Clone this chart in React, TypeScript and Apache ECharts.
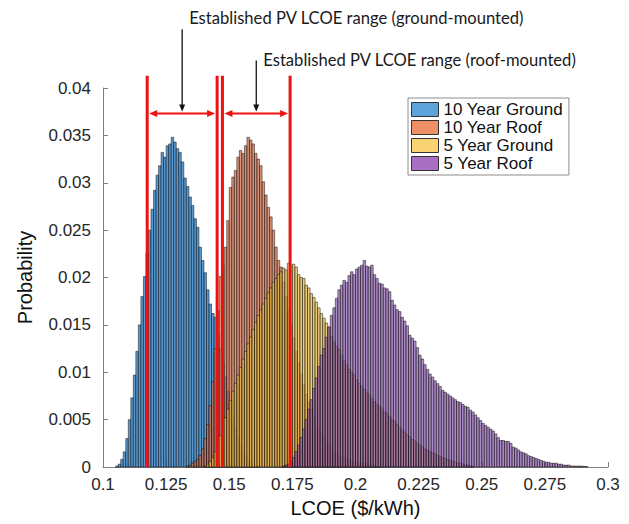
import React, { useEffect, useRef } from 'react';
import * as echarts from 'echarts';

// ---------- data ----------
const BIN_WIDTH = 0.001;
const SERIES_NAMES = ['10 Year Ground', '10 Year Roof', '5 Year Ground', '5 Year Roof'];

const GROUND10_START = 0.105;
const GROUND10 = [
  0.0001, 0.0003, 0.0008, 0.0016, 0.0030, 0.0050, 0.0073, 0.0097, 0.0122, 0.0150,
  0.0180, 0.0201, 0.0226, 0.0250, 0.0272, 0.0292, 0.0308, 0.0318, 0.0332, 0.0327,
  0.0339, 0.0341, 0.0348, 0.0343, 0.0336, 0.0332, 0.0322, 0.0305, 0.0296, 0.0285,
  0.0276, 0.0262, 0.0253, 0.0232, 0.0218, 0.0205, 0.0187, 0.0172, 0.0162, 0.0158,
  0.0140, 0.0125, 0.0110, 0.0095, 0.0080, 0.0066, 0.0053, 0.0042, 0.0032, 0.0024,
  0.0017, 0.0012, 0.0008, 0.0005, 0.0003, 0.0002, 0.0001,
];

const ROOF10_START = 0.133;
const ROOF10 = [
  0.0001, 0.0002, 0.0004, 0.0006, 0.0008, 0.0012, 0.0019, 0.0030, 0.0045, 0.0065,
  0.0090, 0.0125, 0.0165, 0.0201, 0.0213, 0.0232, 0.0260, 0.0295, 0.0306, 0.0313,
  0.0327, 0.0334, 0.0331, 0.0339, 0.0348, 0.0345, 0.0341, 0.0331, 0.0325, 0.0318,
  0.0301, 0.0287, 0.0274, 0.0264, 0.0250, 0.0232, 0.0218, 0.0211, 0.0195, 0.0180,
  0.0165, 0.0150, 0.0136, 0.0122, 0.0110, 0.0098, 0.0087, 0.0077, 0.0068, 0.0060,
  0.0053, 0.0046, 0.0040, 0.0035, 0.0030, 0.0026, 0.0022, 0.0019, 0.0016, 0.0014,
  0.0012, 0.0011, 0.0010, 0.0009, 0.0008, 0.0007, 0.0006, 0.0006, 0.0005, 0.0004,
  0.0004, 0.0003, 0.0003, 0.0002, 0.0002, 0.0001, 0.0001,
];

const GROUND5_START = 0.140;
const GROUND5 = [
  0.0001, 0.0003, 0.0006, 0.0010, 0.0016, 0.0024, 0.0033, 0.0043, 0.0052, 0.0061,
  0.0070, 0.0080, 0.0088, 0.0097, 0.0105, 0.0114, 0.0122, 0.0130, 0.0137, 0.0145,
  0.0153, 0.0160, 0.0166, 0.0172, 0.0178, 0.0184, 0.0189, 0.0195, 0.0199, 0.0203,
  0.0206, 0.0210, 0.0208, 0.0215, 0.0213, 0.0214, 0.0211, 0.0203, 0.0200, 0.0199,
  0.0192, 0.0189, 0.0183, 0.0179, 0.0174, 0.0168, 0.0162, 0.0157, 0.0152, 0.0147,
  0.0138, 0.0132, 0.0127, 0.0124, 0.0118, 0.0112, 0.0108, 0.0103, 0.0100, 0.0097,
  0.0092, 0.0088, 0.0085, 0.0082, 0.0079, 0.0076, 0.0072, 0.0069, 0.0066, 0.0064,
  0.0061, 0.0058, 0.0056, 0.0053, 0.0050, 0.0048, 0.0045, 0.0042, 0.0039, 0.0037,
  0.0034, 0.0032, 0.0029, 0.0027, 0.0025, 0.0023, 0.0021, 0.0019, 0.0018, 0.0016,
  0.0015, 0.0014, 0.0012, 0.0011, 0.0010, 0.0009, 0.0008, 0.0007, 0.0006, 0.0005,
  0.0004, 0.0004, 0.0003, 0.0002, 0.0002, 0.0001, 0.0001,
];

const ROOF5_START = 0.171;
const ROOF5 = [
  0.0001, 0.0002, 0.0003, 0.0005, 0.0010, 0.0016, 0.0023, 0.0031, 0.0040, 0.0050,
  0.0061, 0.0071, 0.0083, 0.0094, 0.0106, 0.0118, 0.0125, 0.0137, 0.0148, 0.0160,
  0.0168, 0.0178, 0.0187, 0.0192, 0.0197, 0.0195, 0.0202, 0.0206, 0.0203, 0.0209,
  0.0211, 0.0213, 0.0218, 0.0212, 0.0211, 0.0213, 0.0203, 0.0199, 0.0194, 0.0193,
  0.0189, 0.0188, 0.0185, 0.0176, 0.0171, 0.0166, 0.0164, 0.0158, 0.0154, 0.0149,
  0.0139, 0.0136, 0.0133, 0.0126, 0.0118, 0.0114, 0.0108, 0.0103, 0.0098, 0.0095,
  0.0091, 0.0088, 0.0085, 0.0081, 0.0079, 0.0077, 0.0075, 0.0073, 0.0071, 0.0069,
  0.0068, 0.0066, 0.0064, 0.0063, 0.0060, 0.0058, 0.0055, 0.0052, 0.0049, 0.0046,
  0.0044, 0.0042, 0.0040, 0.0038, 0.0035, 0.0031, 0.0028, 0.0028, 0.0027, 0.0027,
  0.0025, 0.0021, 0.0020, 0.0018, 0.0016, 0.0015, 0.0014, 0.0012, 0.0011, 0.0010,
  0.0009, 0.0008, 0.0007, 0.0006, 0.0005, 0.0005, 0.0004, 0.0004, 0.0004, 0.0003,
  0.0003, 0.0002, 0.0002, 0.0002, 0.0001, 0.0001, 0.0001, 0.0001, 0.0001, 0.00005,
  0.00005,
];

const X_TICK_LABELS = ['0.1', '0.125', '0.15', '0.175', '0.2', '0.225', '0.25', '0.275', '0.3'];
const Y_TICK_LABELS = ['0', '0.005', '0.01', '0.015', '0.02', '0.025', '0.03', '0.035', '0.04'];

const RANGE_LABELS = [
  'Established PV LCOE range (ground-mounted)',
  'Established PV LCOE range (roof-mounted)',
];
const RANGE_LOW = [0.1175, 0.1473];
const RANGE_HIGH = [0.1452, 0.1741];

// ---------- styles ----------
const FILL_COLORS = [
  'rgba(60,135,200,0.85)',
  'rgba(205,110,75,0.75)',
  'rgba(228,186,72,0.72)',
  'rgba(132,82,170,0.66)',
];
const LEGEND_COLORS = ['#5ba3da', '#ef8f67', '#f9d273', '#a96fc3'];
const SERIES_STARTS = [GROUND10_START, ROOF10_START, GROUND5_START, ROOF5_START];
const SERIES_VALUES = [GROUND10, ROOF10, GROUND5, ROOF5];

const LINE_TOP = 0.0413;
const ARROW_Y = 0.0373;
const POINTER_TOP = [0.0462, 0.0429];
const LABEL_Y = [0.0474, 0.0430];

function histSeries(idx: number) {
  const start = SERIES_STARTS[idx];
  const values = SERIES_VALUES[idx];
  const data = values.map((v, i) => [
    +(start + i * BIN_WIDTH).toFixed(4),
    +(start + (i + 1) * BIN_WIDTH).toFixed(4),
    v,
  ]);
  const fill = FILL_COLORS[idx];
  return {
    type: 'custom',
    name: SERIES_NAMES[idx],
    data,
    z: 2 + idx,
    encode: { x: [0, 1], y: 2 },
    itemStyle: { color: LEGEND_COLORS[idx] },
    renderItem: (_params: any, api: any) => {
      const p0 = api.coord([api.value(0), api.value(2)]);
      const p1 = api.coord([api.value(1), 0]);
      return {
        type: 'rect',
        shape: { x: p0[0], y: p0[1], width: p1[0] - p0[0], height: p1[1] - p0[1] },
        style: { fill, stroke: 'rgba(0,0,0,0.85)', lineWidth: 0.55 },
      };
    },
  };
}

function arrowHead(tip: number[], dir: number[], len: number, half: number, color: string) {
  const bx = tip[0] - dir[0] * len;
  const by = tip[1] - dir[1] * len;
  const nx = -dir[1];
  const ny = dir[0];
  return {
    type: 'polygon',
    shape: {
      points: [
        [tip[0], tip[1]],
        [bx + nx * half, by + ny * half],
        [bx - nx * half, by - ny * half],
      ],
    },
    style: { fill: color },
  };
}

const annotationSeries = {
  type: 'custom',
  name: 'ranges',
  silent: true,
  z: 20,
  clip: false,
  data: RANGE_LOW.map((lo, i) => [lo, RANGE_HIGH[i], i]),
  encode: { x: [0, 1], y: 2 },
  renderItem: (_params: any, api: any) => {
    const lo = api.value(0);
    const hi = api.value(1);
    const i = api.value(2);
    const mid = (lo + hi) / 2;
    const red = '#ee1111';
    const loB = api.coord([lo, 0]);
    const loT = api.coord([lo, LINE_TOP]);
    const hiB = api.coord([hi, 0]);
    const hiT = api.coord([hi, LINE_TOP]);
    const aL = api.coord([lo, ARROW_Y]);
    const aR = api.coord([hi, ARROW_Y]);
    const pTop = api.coord([mid, POINTER_TOP[i]]);
    const pTip = api.coord([mid, ARROW_Y]);
    const lab = api.coord([mid, LABEL_Y[i]]);
    return {
      type: 'group',
      children: [
        { type: 'line', shape: { x1: loB[0], y1: loB[1], x2: loT[0], y2: loT[1] }, style: { stroke: red, lineWidth: 3 } },
        { type: 'line', shape: { x1: hiB[0], y1: hiB[1], x2: hiT[0], y2: hiT[1] }, style: { stroke: red, lineWidth: 3 } },
        { type: 'line', shape: { x1: aL[0] + 6, y1: aL[1], x2: aR[0] - 6, y2: aR[1] }, style: { stroke: red, lineWidth: 2 } },
        arrowHead([aL[0] + 2, aL[1]], [-1, 0], 8, 3.5, red),
        arrowHead([aR[0] - 2, aR[1]], [1, 0], 8, 3.5, red),
        { type: 'line', shape: { x1: pTop[0], y1: pTop[1], x2: pTip[0], y2: pTip[1] - 6 }, style: { stroke: '#111', lineWidth: 1.3 } },
        arrowHead([pTip[0], pTip[1] - 2], [0, 1], 7, 3, '#111'),
        {
          type: 'text',
          style: {
            text: RANGE_LABELS[i],
            x: pTop[0] + 7,
            y: lab[1],
            align: 'left',
            verticalAlign: 'middle',
            font: '16.6px Lato',
            fill: '#1a1a1a',
          },
        },
      ],
    };
  },
};

const option: any = {
  animation: false,
  backgroundColor: '#ffffff',
  grid: { left: 103, right: 21, top: 88, bottom: 57, containLabel: false },
  legend: {
    orient: 'vertical',
    left: 408,
    top: 98,
    itemWidth: 27,
    itemHeight: 14,
    itemGap: 1,
    padding: [3, 6, 3, 3],
    borderColor: '#8c8c8c',
    borderWidth: 1,
    icon: 'rect',
    textStyle: { fontFamily: 'Liberation Sans', fontSize: 17, color: '#111', lineHeight: 17 },
    data: SERIES_NAMES.map((n, i) => ({
      name: n,
      itemStyle: { color: LEGEND_COLORS[i], borderColor: '#333', borderWidth: 1 },
    })),
  },
  xAxis: {
    type: 'value',
    min: 0.1,
    max: 0.3,
    interval: 0.025,
    name: 'LCOE ($/kWh)',
    nameLocation: 'middle',
    nameGap: 31,
    nameTextStyle: { fontFamily: 'Liberation Sans', fontSize: 20, color: '#111' },
    axisLine: { lineStyle: { color: '#808080', width: 1 } },
    axisTick: { inside: true, length: 5, lineStyle: { color: '#808080' } },
    splitLine: { show: false },
    axisLabel: {
      margin: 9,
      fontFamily: 'Liberation Sans',
      fontSize: 17,
      color: '#262626',
      formatter: (v: number) => X_TICK_LABELS[Math.round((v - 0.1) / 0.025)] ?? '',
    },
  },
  yAxis: {
    type: 'value',
    min: 0,
    max: 0.04,
    interval: 0.005,
    name: 'Probability',
    nameLocation: 'middle',
    nameGap: 68,
    nameTextStyle: { fontFamily: 'Liberation Sans', fontSize: 20, color: '#111' },
    axisLine: { show: true, lineStyle: { color: '#808080', width: 1 } },
    axisTick: { show: true, inside: true, length: 5, lineStyle: { color: '#808080' } },
    splitLine: { show: false },
    axisLabel: {
      margin: 12,
      fontFamily: 'Liberation Sans',
      fontSize: 17,
      color: '#262626',
      formatter: (v: number) => Y_TICK_LABELS[Math.round(v / 0.005)] ?? '',
    },
  },
  series: [histSeries(0), histSeries(1), histSeries(2), histSeries(3), annotationSeries],
};

export default function App() {
  const ref = useRef<HTMLDivElement>(null);
  useEffect(() => {
    const chart = echarts.init(ref.current!, null, { renderer: 'svg' });
    chart.setOption(option);
    return () => chart.dispose();
  }, []);
  return (
    <div
      ref={ref}
      style={{ position: 'absolute', left: 0, top: 0, width: 629, height: 524, background: '#fff' }}
    />
  );
}
